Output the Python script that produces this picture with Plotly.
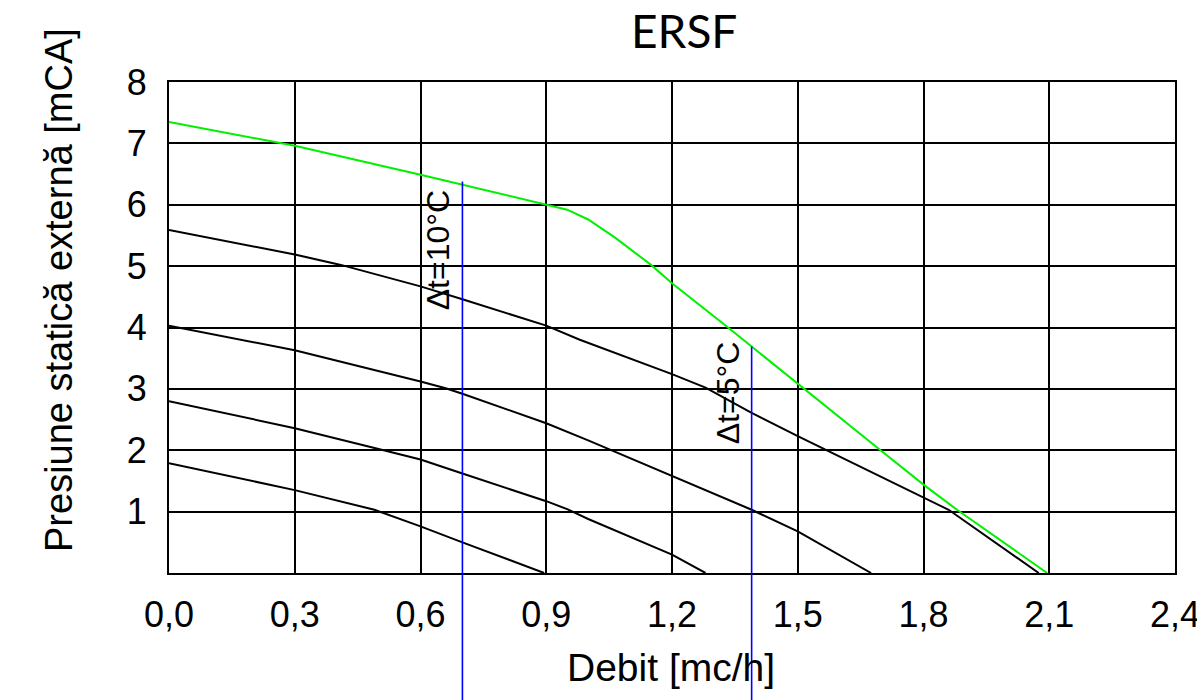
import plotly.graph_objects as go

# ---- data ----
green_x = [0.0, 0.3, 0.6, 0.9, 0.95, 1.0, 1.065, 1.15, 1.2, 1.33, 1.39, 1.5, 1.69, 1.8, 1.88, 2.095]
green_y = [7.35, 6.96, 6.49, 6.0, 5.92, 5.76, 5.46, 5.02, 4.72, 4.02, 3.69, 3.07, 2.04, 1.44, 1.03, 0.0]

c1_x = [0.0, 0.3, 0.41, 0.6, 0.7, 0.9, 0.98, 1.2, 1.28, 1.39, 1.5, 1.78, 1.86, 2.075]
c1_y = [5.59, 5.19, 5.02, 4.67, 4.46, 4.03, 3.80, 3.24, 3.02, 2.61, 2.23, 1.30, 1.03, 0.0]

c2_x = [0.0, 0.3, 0.6, 0.66, 0.7, 0.9, 1.0, 1.2, 1.39, 1.5, 1.675]
c2_y = [4.03, 3.63, 3.12, 3.01, 2.92, 2.44, 2.16, 1.58, 1.03, 0.68, 0.0]

c3_x = [0.0, 0.3, 0.5, 0.6, 0.7, 0.9, 0.95, 1.0, 1.2, 1.28]
c3_y = [2.80, 2.36, 2.02, 1.85, 1.62, 1.17, 1.04, 0.88, 0.30, 0.0]

c4_x = [0.0, 0.3, 0.49, 0.6, 0.7, 0.895]
c4_y = [1.79, 1.35, 1.03, 0.76, 0.50, 0.0]

marker_x = [0.70, 1.39]
marker_top = [6.38, 3.69]
marker_labels = ["Δt=10°C", "Δt=5°C"]
label_x = [0.642, 1.333]
label_y = [5.26, 2.94]

x_ticks = [0.0, 0.3, 0.6, 0.9, 1.2, 1.5, 1.8, 2.1, 2.4]
y_ticks = [1, 2, 3, 4, 5, 6, 7, 8]
x_range = [0, 2.4]
y_range = [0, 8]

title = "ERSF"
x_title = "Debit [mc/h]"
y_title = "Presiune statică externă [mCA]"

# ---- figure ----
fig = go.Figure()

for xs, ys in [(c1_x, c1_y), (c2_x, c2_y), (c3_x, c3_y), (c4_x, c4_y)]:
    fig.add_trace(go.Scatter(x=xs, y=ys, mode="lines",
                             line=dict(color="black", width=2), showlegend=False,
                             hoverinfo="skip"))
fig.add_trace(go.Scatter(x=green_x, y=green_y, mode="lines",
                         line=dict(color="#00f000", width=2), showlegend=False,
                         hoverinfo="skip"))

W, H = 1197, 700
# target plot box in picture pixels
PL, PR, PT, PB = 169, 1175, 82, 573
L, T, R, B = PL, PT, W - PR, H - PB
plot_h = PB - PT
plot_w = PR - PL

for mx, mt in zip(marker_x, marker_top):
    fig.add_shape(type="line", xref="x", yref="paper",
                  x0=mx, x1=mx, y0=-(H - PB) / plot_h - 0.05,
                  y1=(mt - y_range[0]) / (y_range[1] - y_range[0]),
                  line=dict(color="#0000ff", width=1.6), layer="above")

for lx, ly, txt in zip(label_x, label_y, marker_labels):
    fig.add_annotation(x=lx, y=ly, xref="x", yref="y", text=txt, textangle=-90,
                       showarrow=False, xanchor="center", yanchor="middle",
                       font=dict(family="Liberation Sans, Arial", size=32, color="black"))

def px_to_paper_x(px):
    return (px - PL) / plot_w

def py_to_paper_y(py):
    return (PB - py) / plot_h

fig.add_annotation(x=px_to_paper_x(684), y=py_to_paper_y(30), xref="paper", yref="paper",
                   text=title, showarrow=False, xanchor="center", yanchor="middle",
                   font=dict(family="Lato, Open Sans", size=46, color="black"))
fig.add_annotation(x=px_to_paper_x(671), y=py_to_paper_y(667), xref="paper", yref="paper",
                   text=x_title, showarrow=False, xanchor="center", yanchor="middle",
                   font=dict(family="Liberation Sans, Arial", size=39, color="black"))
fig.add_annotation(x=px_to_paper_x(59), y=py_to_paper_y(290), xref="paper", yref="paper",
                   text=y_title, showarrow=False, textangle=-90,
                   xanchor="center", yanchor="middle",
                   font=dict(family="Liberation Sans, Arial", size=38, color="black"))

fig.update_layout(
    width=W, height=H,
    margin=dict(l=L, r=R, t=T, b=B, pad=0, autoexpand=False),
    paper_bgcolor="white", plot_bgcolor="white",
    separators=", ",
    font=dict(family="Liberation Sans, Arial", size=36, color="black"),
)
fig.update_xaxes(range=x_range, tickvals=x_ticks, tickformat=".1f",
                 automargin=False,
                 showgrid=True, gridcolor="black", gridwidth=1.5,
                 showline=True, linecolor="black", linewidth=2, mirror=True,
                 zeroline=False, ticks="", ticklabelstandoff=9,
                 ticklabeloverflow="allow",
                 tickfont=dict(size=36))
fig.update_yaxes(range=y_range, tickvals=y_ticks,
                 automargin=False,
                 showgrid=True, gridcolor="black", gridwidth=1.5,
                 showline=True, linecolor="black", linewidth=2, mirror=True,
                 zeroline=False, ticks="", ticklabelstandoff=13,
                 tickfont=dict(size=36))

fig.write_html("out.html", config={"displayModeBar": False},
               post_script="document.body.style.margin='0';"
                           "document.body.style.overflow='hidden';")
